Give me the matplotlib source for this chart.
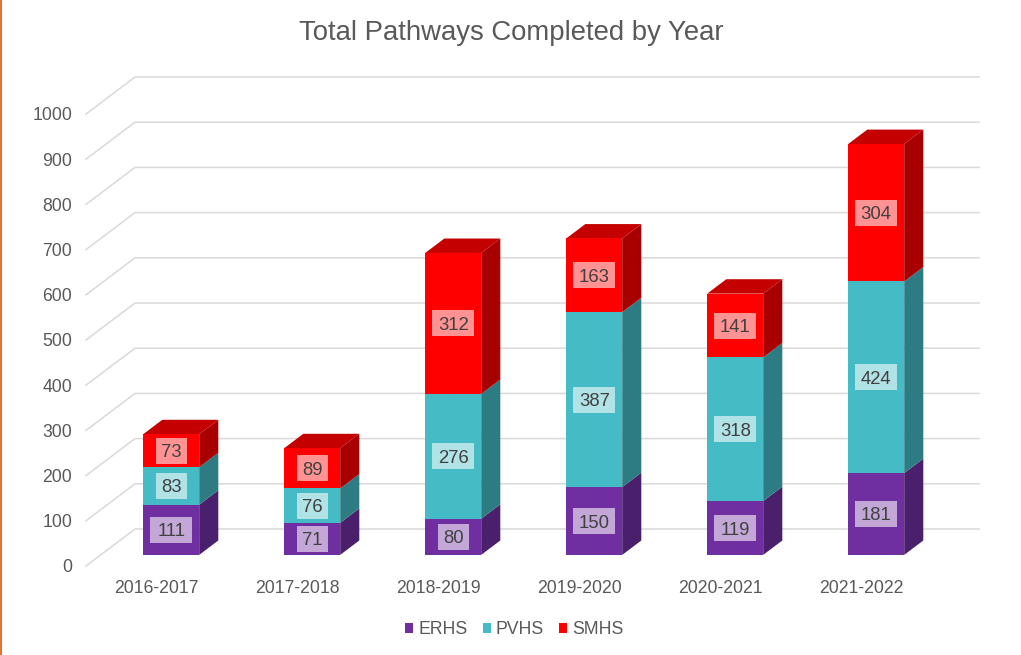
import matplotlib
matplotlib.use("Agg")
import matplotlib.pyplot as plt
from matplotlib.patches import Patch, Rectangle
import numpy as np

plt.rcParams['font.family'] = ['Liberation Sans', 'DejaVu Sans']

years = ['2016-2017', '2017-2018', '2018-2019', '2019-2020', '2020-2021', '2021-2022']
series = ['ERHS', 'PVHS', 'SMHS']
erhs = [111, 71, 80, 150, 119, 181]
pvhs = [83, 76, 276, 387, 318, 424]
smhs = [73, 89, 312, 163, 141, 304]
y_ticks = [0, 100, 200, 300, 400, 500, 600, 700, 800, 900, 1000]
title = 'Total Pathways Completed by Year'

front_colors = ['#702FA0', '#45BBC5', '#FF0000']
side_colors = ['#4A1F6B', '#2E7C83', '#A80000']
top_colors = ['#5A2680', '#37969E', '#C40000']
GRID = '#D9D9D9'
TEXT = '#595959'

W, H = 1021, 655
fig = plt.figure(figsize=(W / 100, H / 100), dpi=100, facecolor='white')
L, R, T, B = 86, 932, 114, 566
ax = fig.add_axes([L / W, 1 - B / H, (R - L) / W, (B - T) / H])
ax.set_xlim(-0.5, 5.5)
ax.set_ylim(0, 1000)
for s in ax.spines.values():
    s.set_visible(False)

# oblique depth: one unit of depth, in data units
DX = 49 / 141
DY = 37 / 0.452
D_FRONT, D_BACK = 0.30, 0.69
HALF = 28 / 141
PX_X = 1 / 141     # one pixel in x data units
PX_Y = 1 / 0.452   # one pixel in y data units


def proj(x, v, d):
    return x + DX * d, v + DY * d


# floor/wall gridlines
for v in y_ticks:
    xs, ys = zip(proj(-0.5, v, 0), proj(-0.5, v, 1), proj(5.5 - 2 * PX_X, v, 1))
    ax.plot(xs, ys, color=GRID, lw=1.1, clip_on=False, zorder=1,
            solid_joinstyle='miter')

# bars
x = np.arange(len(years))
stack = [erhs, pvhs, smhs]
bottom = np.zeros(len(years))
xf, vf = proj(x, 0, D_FRONT)
for k, vals in enumerate(stack):
    vals = np.array(vals, dtype=float)
    top = bottom + vals
    for i in x:
        x1 = i + HALF
        # side face
        p = [proj(x1, bottom[i], D_FRONT), proj(x1, bottom[i], D_BACK),
             proj(x1, top[i], D_BACK), proj(x1, top[i], D_FRONT)]
        ax.fill(*zip(*p), color=side_colors[k], lw=0, zorder=3, clip_on=False)
        if k == len(stack) - 1:
            x0 = i - HALF
            p = [proj(x0, top[i], D_FRONT), proj(x0, top[i], D_BACK),
                 proj(x1, top[i], D_BACK), proj(x1, top[i], D_FRONT)]
            ax.fill(*zip(*p), color=top_colors[k], lw=0, zorder=3, clip_on=False)
    ax.bar(xf, vals, width=2 * HALF, bottom=bottom + vf, color=front_colors[k],
           lw=0, zorder=4)
    for i in x:
        label = f'{int(vals[i])}'
        yc = bottom[i] + vf + vals[i] / 2
        bw = (10.5 * len(label) + 10) * PX_X
        bh = 26 * PX_Y
        ax.add_patch(Rectangle((xf[i] - bw / 2, yc - bh / 2), bw, bh,
                               fc=(1, 1, 1, 0.58), ec='none', zorder=5))
        ax.text(xf[i], yc, label, ha='center', va='center_baseline',
                fontsize=13.3, color='#404040', zorder=6)
    bottom = top

ax.set_xticks(x, years)
ax.set_yticks(y_ticks, [str(v) for v in y_ticks])
ax.tick_params(axis='both', length=0, labelsize=12.7, labelcolor=TEXT)
ax.tick_params(axis='x', pad=10)
ax.tick_params(axis='y', pad=10)

fig.text(511 / W, 1 - 33 / H, title, ha='center', va='center', fontsize=19.8, color=TEXT)

handles = [Patch(facecolor=c, edgecolor='none', label=s) for c, s in zip(front_colors, series)]
fig.legend(handles=handles, loc='center', bbox_to_anchor=(514.5 / W, 1 - 630 / H), ncol=3, frameon=False,
           fontsize=12.7, labelcolor=TEXT, handlelength=0.45, handleheight=0.45,
           handletextpad=0.3, columnspacing=0.85, borderpad=0)

# orange slide edge at far left
fig.add_artist(Rectangle((0, 0), 1.5 / W, 1, transform=fig.transFigure, fc='#E9722E', ec='none'))

fig.savefig('out.png', dpi=100, facecolor='white')
